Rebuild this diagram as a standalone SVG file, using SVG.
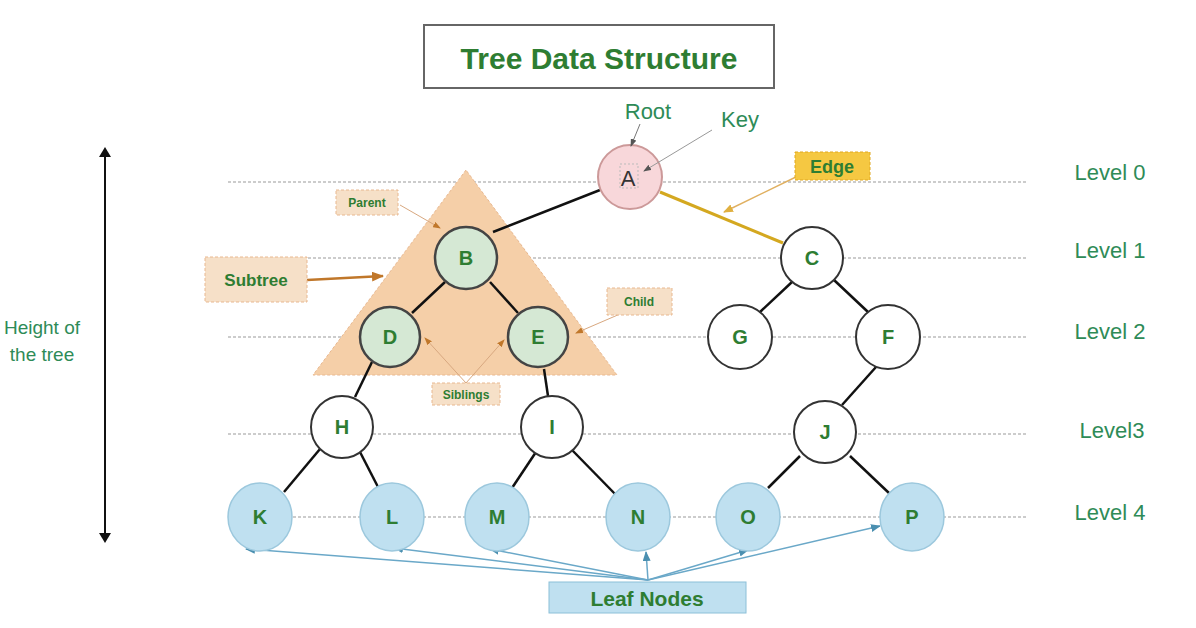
<svg xmlns="http://www.w3.org/2000/svg" width="1196" height="628" viewBox="0 0 1196 628">
<defs>
<style>
text{font-family:"Liberation Sans",Arial,sans-serif;text-anchor:middle}
.n{fill:#fff;stroke:#333;stroke-width:2}
.g{fill:#d5e8d4;stroke:#444;stroke-width:2.5}
.l{fill:#bfe0f0;stroke:#9cc8dd;stroke-width:1.5}
.nt{font-size:20px;font-weight:bold;fill:#2e7d32}
.lv{font-size:22px;fill:#2e8b57}
.e{stroke:#111;stroke-width:2.5}
.h{stroke:#ccc;stroke-width:2;stroke-dasharray:3 2}
.lb{fill:#f6e0c8;stroke:#e8b890;stroke-dasharray:3 2}
.st{font-size:12px;font-weight:bold;fill:#2e7d32}
</style>
<marker id="ab" markerUnits="userSpaceOnUse" markerWidth="10" markerHeight="8" refX="9" refY="4" orient="auto"><path d="M0,0L10,4L0,8z" fill="#4a8fb0"/></marker>
<marker id="ao" markerUnits="userSpaceOnUse" markerWidth="12" markerHeight="10" refX="11" refY="5" orient="auto"><path d="M0,0L12,5L0,10z" fill="#c0772a"/></marker>
<marker id="as" markerUnits="userSpaceOnUse" markerWidth="8" markerHeight="6" refX="7" refY="3" orient="auto"><path d="M0,0L8,3L0,6z" fill="#c0772a"/></marker>
<marker id="ay" markerUnits="userSpaceOnUse" markerWidth="10" markerHeight="8" refX="9" refY="4" orient="auto"><path d="M0,0L10,4L0,8z" fill="#e0b040"/></marker>
<marker id="ag" markerUnits="userSpaceOnUse" markerWidth="8" markerHeight="6" refX="7" refY="3" orient="auto"><path d="M0,0L8,3L0,6z" fill="#555"/></marker>
<marker id="ak" markerUnits="userSpaceOnUse" markerWidth="10" markerHeight="12" refX="5" refY="6" orient="auto-start-reverse"><path d="M0,0L10,6L0,12z" fill="#111"/></marker>
</defs>
<rect width="1196" height="628" fill="#fff"/>
<g id="title"><rect x="424" y="25" width="350" height="63" fill="#fff" stroke="#666" stroke-width="2"/><text x="599" y="69" font-size="30" font-weight="bold" fill="#2e7d32">Tree Data Structure</text></g>
<g id="levels">
<line class="h" x1="228" y1="182" x2="1027" y2="182"/><line class="h" x1="228" y1="258" x2="1027" y2="258"/><line class="h" x1="228" y1="337" x2="1027" y2="337"/><line class="h" x1="228" y1="434" x2="1027" y2="434"/><line class="h" x1="228" y1="517" x2="1027" y2="517"/>
<text class="lv" x="1110" y="180">Level 0</text><text class="lv" x="1110" y="258">Level 1</text><text class="lv" x="1110" y="339">Level 2</text><text class="lv" x="1112" y="438">Level3</text><text class="lv" x="1110" y="520">Level 4</text>
</g>
<g id="height"><line x1="105" y1="152" x2="105" y2="538" stroke="#111" stroke-width="2" marker-start="url(#ak)" marker-end="url(#ak)"/><text x="42" y="334" font-size="19" fill="#2e8b57">Height of</text><text x="42" y="361" font-size="19" fill="#2e8b57">the tree</text></g>
<g id="subtree-tri"><polygon points="466,170 313,375 617,375" fill="#f5cfa8" stroke="#e8b890" stroke-dasharray="3 2"/></g>
<g id="connectors">
<line class="e" x1="600" y1="190" x2="493" y2="232"/>
<line x1="660" y1="192" x2="783" y2="243" stroke="#d4a820" stroke-width="3"/>
<line class="e" x1="445" y1="282" x2="412" y2="313"/><line class="e" x1="490" y1="282" x2="518" y2="313"/>
<line class="e" x1="792" y1="282" x2="760" y2="312"/><line class="e" x1="834" y1="280" x2="868" y2="312"/>
<line class="e" x1="372" y1="362" x2="355" y2="397"/><line class="e" x1="544" y1="369" x2="548" y2="396"/>
<line class="e" x1="876" y1="367" x2="842" y2="405"/>
<line class="e" x1="320" y1="449" x2="284" y2="492"/><line class="e" x1="360" y1="452" x2="378" y2="487"/>
<line class="e" x1="536" y1="452" x2="512" y2="488"/><line class="e" x1="572" y1="450" x2="617" y2="496"/>
<line class="e" x1="800" y1="456" x2="768" y2="488"/><line class="e" x1="850" y1="456" x2="890" y2="494"/>
<g stroke="#6aa8c8" stroke-width="1.5" fill="none">
<line x1="648" y1="580" x2="246" y2="549" marker-end="url(#ab)"/><line x1="648" y1="580" x2="394" y2="548" marker-end="url(#ab)"/><line x1="648" y1="580" x2="490" y2="549" marker-end="url(#ab)"/><line x1="648" y1="580" x2="646" y2="552" marker-end="url(#ab)"/><line x1="648" y1="580" x2="748" y2="550" marker-end="url(#ab)"/><line x1="648" y1="580" x2="880" y2="526" marker-end="url(#ab)"/>
</g>
<line x1="307" y1="280" x2="383" y2="276" stroke="#c0772a" stroke-width="2.5" marker-end="url(#ao)"/>
<line x1="400" y1="205" x2="440" y2="228" stroke="#d8a880" stroke-width="1" marker-end="url(#as)"/>
<line x1="620" y1="314" x2="576" y2="333" stroke="#d8a880" stroke-width="1" marker-end="url(#as)"/>
<line x1="466" y1="383" x2="425" y2="338" stroke="#d8a880" stroke-width="1" marker-end="url(#as)"/>
<line x1="466" y1="383" x2="504" y2="340" stroke="#d8a880" stroke-width="1" marker-end="url(#as)"/>
<line x1="800" y1="175" x2="724" y2="212" stroke="#e0b060" stroke-width="1.5" marker-end="url(#ay)"/>
</g>
<g id="labels">
<text x="648" y="119" font-size="22" fill="#2e8b57">Root</text>
<text x="740" y="127" font-size="22" fill="#2e8b57">Key</text>
<g id="edge-label"><rect x="795" y="152" width="75" height="28" fill="#f5c842" stroke="#e0a820" stroke-dasharray="3 2"/><text x="832" y="173" font-size="18" font-weight="bold" fill="#2e7d32">Edge</text></g>
<g id="subtree-label"><rect class="lb" x="205" y="257" width="102" height="45"/><text x="256" y="286" font-size="17" font-weight="bold" fill="#2e7d32">Subtree</text></g>
<g id="parent-label"><rect class="lb" x="336" y="190" width="62" height="25" fill="#fbeee0"/><text class="st" x="367" y="207">Parent</text></g>
<g id="child-label"><rect class="lb" x="607" y="288" width="65" height="27" fill="#fbeee0"/><text class="st" x="639" y="306">Child</text></g>
<g id="siblings-label"><rect class="lb" x="432" y="383" width="68" height="22" fill="#fbeee0"/><text class="st" x="466" y="399">Siblings</text></g>
<g id="leaf-label"><rect x="549" y="582" width="197" height="31" fill="#bfe0f0" stroke="#8cc0d8"/><text x="647" y="606" font-size="21" font-weight="bold" fill="#2e7d32">Leaf Nodes</text></g>
</g>
<g id="A"><circle cx="630" cy="177" r="32" fill="#f8d7da" stroke="#c99" stroke-width="2"/><rect x="620" y="164" width="18" height="24" fill="none" stroke="#bbb" stroke-dasharray="2 2"/><text x="628" y="186" font-size="22" fill="#333">A</text></g>
<g id="B"><circle class="g" cx="466" cy="258" r="31"/><text class="nt" x="466" y="265">B</text></g>
<g id="C"><circle class="n" cx="812" cy="258" r="31"/><text class="nt" x="812" y="265">C</text></g>
<g id="D"><circle class="g" cx="390" cy="337" r="30"/><text class="nt" x="390" y="344">D</text></g>
<g id="E"><circle class="g" cx="538" cy="337" r="30"/><text class="nt" x="538" y="344">E</text></g>
<g id="G"><circle class="n" cx="740" cy="337" r="32"/><text class="nt" x="740" y="344">G</text></g>
<g id="F"><circle class="n" cx="888" cy="337" r="32"/><text class="nt" x="888" y="344">F</text></g>
<g id="H"><circle class="n" cx="342" cy="427" r="31"/><text class="nt" x="342" y="434">H</text></g>
<g id="I"><circle class="n" cx="552" cy="427" r="31"/><text class="nt" x="552" y="434">I</text></g>
<g id="J"><circle class="n" cx="825" cy="432" r="31"/><text class="nt" x="825" y="439">J</text></g>
<g id="K"><ellipse class="l" cx="260" cy="517" rx="32" ry="34"/><text class="nt" x="260" y="524">K</text></g>
<g id="L"><ellipse class="l" cx="392" cy="517" rx="32" ry="34"/><text class="nt" x="392" y="524">L</text></g>
<g id="M"><ellipse class="l" cx="497" cy="517" rx="32" ry="34"/><text class="nt" x="497" y="524">M</text></g>
<g id="N"><ellipse class="l" cx="638" cy="517" rx="32" ry="34"/><text class="nt" x="638" y="524">N</text></g>
<g id="O"><ellipse class="l" cx="748" cy="517" rx="32" ry="34"/><text class="nt" x="748" y="524">O</text></g>
<g id="P"><ellipse class="l" cx="912" cy="517" rx="32" ry="34"/><text class="nt" x="912" y="524">P</text></g>
<g id="pointer-connectors">
<line x1="640" y1="124" x2="631" y2="146" stroke="#777" stroke-width="1" marker-end="url(#ag)"/>
<line x1="712" y1="130" x2="644" y2="171" stroke="#999" stroke-width="1" marker-end="url(#ag)"/>
</g>
</svg>
